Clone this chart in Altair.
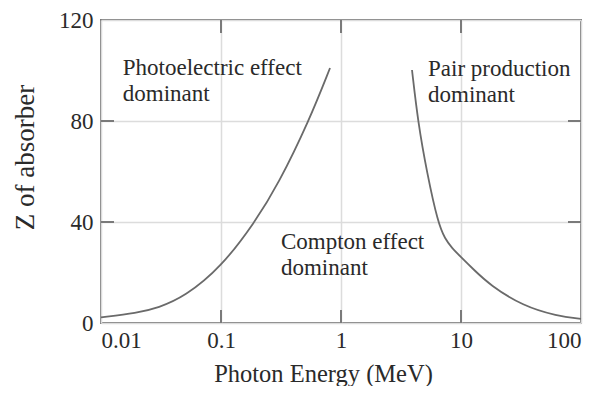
import altair as alt
import pandas as pd

# Photoelectric / Compton boundary
photo_E = [0.01, 0.02, 0.03, 0.05, 0.1, 0.192, 0.298, 0.541, 0.81]
photo_Z = [2.2, 4, 6, 10.5, 22, 40, 54.7, 80, 101]

# Compton / pair production boundary
pair_E = [3.906, 4.38, 5.21, 6.43, 7.36, 8.41, 9.81, 12.59, 17.45, 32.9, 63.1, 100]
pair_Z = [100.2, 79.6, 59.4, 39.6, 33.3, 29.7, 26.5, 21.4, 15.0, 6.7, 2.8, 1.6]

x_ticks = [0.01, 0.1, 1, 10, 100]
y_ticks = [0, 40, 80, 120]
inner_x_ticks = [0.1, 1, 10]
inner_y_ticks = [40, 80]

labels = ["Photoelectric effect\ndominant", "Compton effect\ndominant", "Pair production\ndominant"]
label_E = [0.0152, 0.316, 5.31]
label_Z = [98.2, 29.3, 97.8]

FONT = "Liberation Serif"
FRAME = "#7a7a7a"
LINE = "#6a6a6a"
TEXT = "#2a2a2a"

curves = pd.DataFrame(
    {
        "E": photo_E + pair_E,
        "Z": photo_Z + pair_Z,
        "series": ["photo"] * len(photo_E) + ["pair"] * len(pair_E),
    }
)

xscale = alt.Scale(type="log", domain=[0.01, 100], nice=False)
yscale = alt.Scale(domain=[0, 120], nice=False)

x_axis = alt.Axis(
    values=x_ticks,
    format="~g",
    title="Photon Energy (MeV)",
    titleFont=FONT,
    titleFontSize=24.5,
    titleFontWeight="normal",
    titleColor=TEXT,
    titleX=222,
    titleY=58,
    titleAnchor="middle",
    titleAlign="center",
    titleBaseline="alphabetic",
    labelFont=FONT,
    labelFontSize=23,
    labelColor=TEXT,
    labelPadding=6,
    labelFlush=True,
    ticks=False,
    domain=False,
    grid=True,
    gridColor="#dcdcdc",
    gridWidth=1.5,
)
y_axis = alt.Axis(
    values=y_ticks,
    title="Z of absorber",
    titleFont=FONT,
    titleFontSize=27,
    titleFontWeight="normal",
    titleColor=TEXT,
    titleX=-76,
    titleY=137,
    titleAngle=270,
    titleAlign="center",
    titleBaseline="middle",
    labelFont=FONT,
    labelFontSize=23,
    labelColor=TEXT,
    labelPadding=8,
    labelFlush=False,
    ticks=False,
    domain=False,
    grid=True,
    gridColor="#dcdcdc",
    gridWidth=1.5,
)

X = alt.X("E:Q", scale=xscale, axis=x_axis)
Y = alt.Y("Z:Q", scale=yscale, axis=y_axis)

lines = (
    alt.Chart(curves)
    .mark_line(color=LINE, strokeWidth=1.8, interpolate="basis")
    .encode(x=X, y=Y, detail="series:N")
)

xt = pd.DataFrame({"E": inner_x_ticks})
yt = pd.DataFrame({"Z": inner_y_ticks})

bottom_ticks = alt.Chart(xt).mark_rule(color=FRAME, strokeWidth=2).encode(
    x=X, y=alt.value(303), y2=alt.value(290)
)
top_ticks = alt.Chart(xt).mark_rule(color=FRAME, strokeWidth=2).encode(
    x=X, y=alt.value(0), y2=alt.value(13)
)
left_ticks = alt.Chart(yt).mark_rule(color=FRAME, strokeWidth=2).encode(
    y=Y, x=alt.value(0), x2=alt.value(13)
)
right_ticks = alt.Chart(yt).mark_rule(color=FRAME, strokeWidth=2).encode(
    y=Y, x=alt.value(480), x2=alt.value(467)
)

ann = pd.DataFrame({"label": labels, "E": label_E, "Z": label_Z})
texts = (
    alt.Chart(ann)
    .mark_text(
        font=FONT,
        fontSize=23,
        color=TEXT,
        align="left",
        baseline="alphabetic",
        lineBreak="\n",
        lineHeight=26,
    )
    .encode(x=X, y=Y, text="label:N")
)

chart = (
    alt.layer(lines, bottom_ticks, top_ticks, left_ticks, right_ticks, texts)
    .properties(
        width=480,
        height=303,
        autosize=alt.AutoSizeParams(type="none"),
        padding={"left": 93, "top": 12, "right": 6, "bottom": 63},
        background="white",
    )
    .configure_view(stroke=FRAME, strokeWidth=2)
)

chart.save("out.html", embed_options={"renderer": "svg", "actions": False})
